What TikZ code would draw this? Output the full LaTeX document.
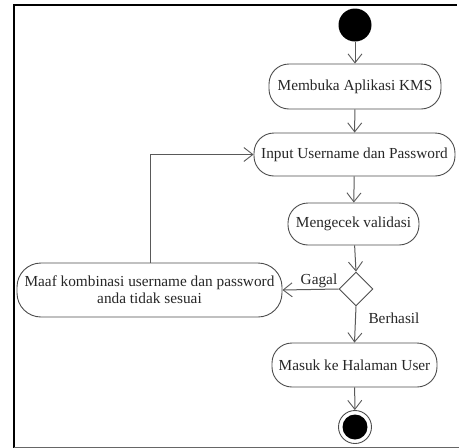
\documentclass[tikz,border=0pt]{standalone}
\usepackage{fontspec}
\setmainfont{Liberation Serif}
\usetikzlibrary{arrows.meta,shapes.geometric}
\begin{document}
\begin{tikzpicture}[x=1pt,y=-1pt,
  act/.style={draw=black!70,line width=0.9pt,rounded corners=20pt,align=center,inner sep=0pt,text=black!85,font=\fontsize{15.3}{17}\selectfont},
  flow/.style={draw=black!65,line width=1pt,-{Straight Barb[length=9pt,width=14pt,line width=0.9pt]}},
  lbl/.style={font=\fontsize{15.3}{17}\selectfont,text=black!85,inner sep=0pt}]
\useasboundingbox (0,0) rectangle (459,448);
% frame
\draw[line width=2pt,black] (14,448) -- (14,5) -- (457,5);
\draw[line width=0.8pt,black!60] (14,447) -- (459,447);
% nodes
\node[circle,fill=black,minimum size=33pt,inner sep=0pt] (start) at (355,25) {};
\node[act,minimum width=172pt,minimum height=45pt] (buka) at (355,86.5) {Membuka Aplikasi KMS};
\node[act,minimum width=201pt,minimum height=43pt] (input) at (354.5,154.5) {Input Username dan Password};
\node[act,minimum width=131pt,minimum height=42pt] (cek) at (353.5,224) {Mengecek validasi};
\node[diamond,draw=black!70,line width=0.9pt,minimum width=34pt,minimum height=34pt,inner sep=0pt] (dec) at (356,289) {};
\node[act,minimum width=265pt,minimum height=54pt,rounded corners=24pt] (maaf) at (149.5,290) {Maaf kombinasi username dan password\\anda tidak sesuai};
\node[act,minimum width=165pt,minimum height=44pt] (masuk) at (354.5,365) {Masuk ke Halaman User};
\node[circle,draw=black!70,line width=0.9pt,minimum size=33pt,inner sep=0pt] (end) at (355,427) {};
\node[circle,fill=black,minimum size=25pt,inner sep=0pt] (endin) at (end) {};
% labels
\node[lbl] (gagal) at (319,281) {Gagal};
\node[lbl] (berhasil) at (394,318) {Berhasil};
% connectors
\draw[flow] (start) -- (buka);
\draw[flow] (buka) -- (input);
\draw[flow] (input) -- (cek);
\draw[flow] (cek) -- (dec.north);
\draw[flow] (dec.west) -- (maaf.east);
\draw[flow] (dec.south) -- (masuk.north);
\draw[flow] (masuk) -- (end);
\coordinate (corner) at (150,154.5);
\draw[flow] (maaf.north -| corner) -- (corner) -- (input.west);
\end{tikzpicture}
\end{document}
